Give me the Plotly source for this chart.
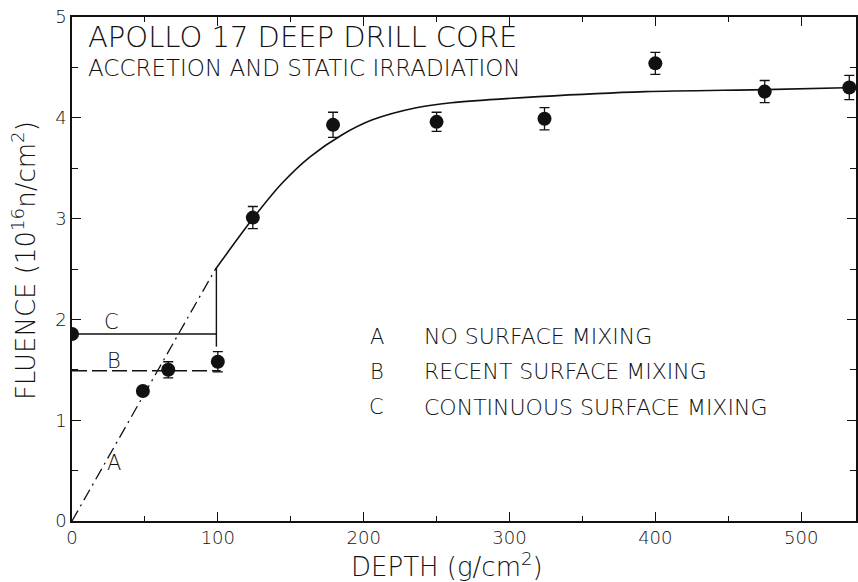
import plotly.graph_objects as go

# Measured data (depth g/cm^2, fluence 1e16 n/cm^2)
depth = [0, 48.6, 66, 100, 124, 179, 250, 324, 400, 475, 533]
fluence = [1.855, 1.29, 1.50, 1.58, 3.01, 3.93, 3.96, 3.99, 4.54, 4.26, 4.30]
fluence_err = [0, 0.0, 0.08, 0.10, 0.11, 0.125, 0.095, 0.11, 0.11, 0.11, 0.12]

# Model curve (accretion + static irradiation)
curve_x = [98, 124, 144, 163, 185, 206, 236, 260, 320, 393, 475, 538]
curve_y = [2.49, 3.00, 3.35, 3.61, 3.83, 3.98, 4.10, 4.15, 4.21, 4.26, 4.28, 4.30]

# Model A: no surface mixing
a_x = [0, 98]
a_y = [0, 2.49]
# Model B: recent surface mixing
b_x = [0, 102]
b_y = [1.49, 1.49]
# Model C: continuous surface mixing
c_x = [0, 99, None, 99, 99]
c_y = [1.855, 1.855, None, 2.51, 1.73]

legend_keys = ["A", "B", "C"]
legend_texts = ["NO SURFACE MIXING", "RECENT SURFACE MIXING", "CONTINUOUS SURFACE MIXING"]
legend_y = [1.83, 1.48, 1.13]

curve_labels = ["A", "B", "C"]
curve_label_x = [29, 29, 27]
curve_label_y = [0.58, 1.59, 1.97]

FONT = "DejaVu Sans"
INK = "#111"

fig = go.Figure()
fig.add_trace(go.Scatter(x=curve_x, y=curve_y, mode="lines",
                         line=dict(color=INK, width=1.6, shape="spline", smoothing=0.8)))
fig.add_trace(go.Scatter(x=a_x, y=a_y, mode="lines",
                         line=dict(color=INK, width=1.3, dash="12px,5px,2px,5px")))
fig.add_trace(go.Scatter(x=b_x, y=b_y, mode="lines",
                         line=dict(color=INK, width=1.4, dash="15px,5px")))
fig.add_trace(go.Scatter(x=c_x, y=c_y, mode="lines",
                         line=dict(color=INK, width=1.4)))
fig.add_trace(go.Scatter(x=depth, y=fluence, mode="markers",
                         marker=dict(color=INK, size=14),
                         error_y=dict(type="data", array=fluence_err, visible=True,
                                      color=INK, thickness=1.3, width=5)))

ann = []
for k, t, yv in zip(legend_keys, legend_texts, legend_y):
    ann.append(dict(x=209, y=yv, xref="x", yref="y", text=k, showarrow=False,
                    xanchor="center", yanchor="middle",
                    font=dict(family=FONT, size=21, color=INK, weight=300)))
    ann.append(dict(x=240, y=yv, xref="x", yref="y", text=t, showarrow=False,
                    xanchor="left", yanchor="middle",
                    font=dict(family=FONT, size=22, color=INK, weight=300)))
for t, xv, yv in zip(curve_labels, curve_label_x, curve_label_y):
    ann.append(dict(x=xv, y=yv, xref="x", yref="y", text=t, showarrow=False,
                    xanchor="center", yanchor="middle",
                    font=dict(family=FONT, size=21, color=INK, weight=300)))
ann.append(dict(x=9.6, y=4.80, xref="x", yref="y", text="APOLLO 17 DEEP DRILL CORE",
                showarrow=False, xanchor="left", yanchor="middle",
                font=dict(family=FONT, size=29, color=INK, weight=300)))
ann.append(dict(x=9.6, y=4.49, xref="x", yref="y", text="ACCRETION AND STATIC IRRADIATION",
                showarrow=False, xanchor="left", yanchor="middle",
                font=dict(family=FONT, size=23, color=INK, weight=300)))
# axis titles
ann.append(dict(x=(448 - 72) / 786, y=(521 - 565) / 504, xref="paper", yref="paper",
                text="DEPTH (g/cm<sup>2</sup>)", showarrow=False,
                xanchor="center", yanchor="middle",
                font=dict(family=FONT, size=26, color=INK, weight=300)))
ann.append(dict(x=(24 - 72) / 786, y=(521 - 261) / 504, xref="paper", yref="paper",
                text="FLUENCE (10<sup>16</sup>n/cm<sup>2</sup>)", showarrow=False,
                textangle=-90, xanchor="center", yanchor="middle",
                font=dict(family=FONT, size=26, color=INK, weight=300)))

fig.update_layout(
    width=858, height=582,
    margin=dict(l=72, r=0, t=17, b=61),
    paper_bgcolor="white", plot_bgcolor="white",
    showlegend=False,
    annotations=ann,
    font=dict(family=FONT, color=INK),
)
fig.update_xaxes(range=[0, 537.6], tickmode="array", tickvals=[0, 100, 200, 300, 400, 500],
                 ticks="inside", ticklen=9, tickwidth=1.3, tickcolor=INK,
                 showline=True, linecolor=INK, linewidth=1.5, mirror="ticks",
                 showgrid=False, zeroline=False,
                 tickfont=dict(family=FONT, size=18, color=INK, weight=300),
                 minor=dict(tickvals=[50, 150, 250, 350, 450], ticks="inside", ticklen=5,
                            tickcolor=INK, tickwidth=1.1, showgrid=False))
fig.update_yaxes(range=[0, 5], tickmode="array", tickvals=[0, 1, 2, 3, 4, 5],
                 ticks="inside", ticklen=9, tickwidth=1.3, tickcolor=INK,
                 showline=True, linecolor=INK, linewidth=1.5, mirror="ticks",
                 showgrid=False, zeroline=False,
                 tickfont=dict(family=FONT, size=18, color=INK, weight=300),
                 minor=dict(tickvals=[0.5, 1.5, 2.5, 3.5, 4.5], ticks="inside", ticklen=6,
                            tickcolor=INK, tickwidth=1.1, showgrid=False))

fig.write_html("out.html")
